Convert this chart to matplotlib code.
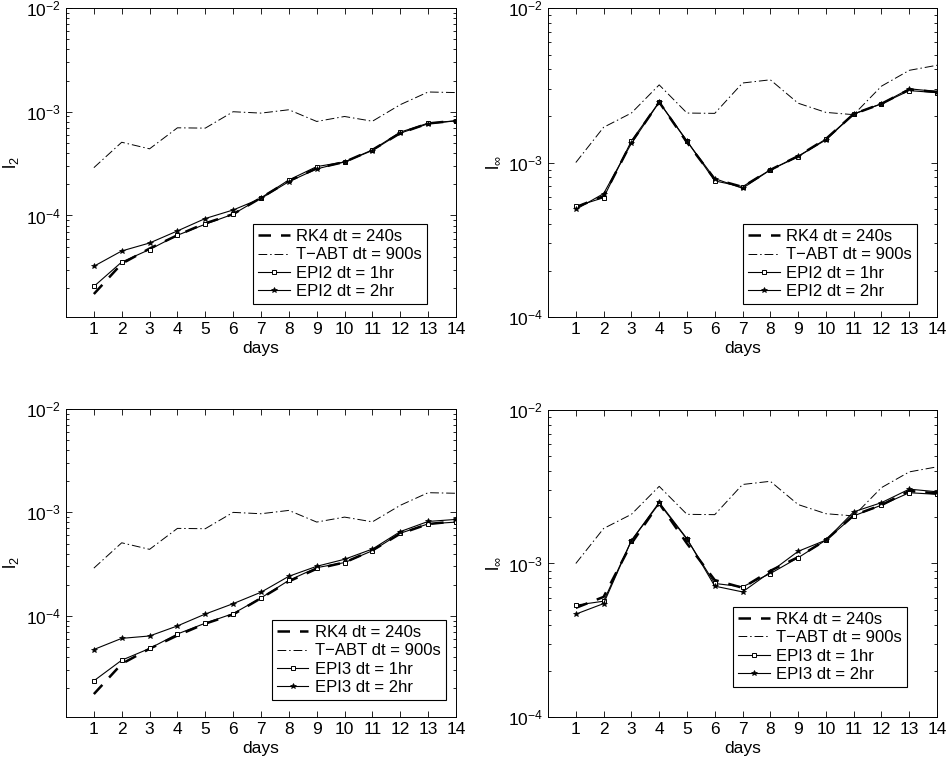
import numpy as np
import matplotlib
matplotlib.use("Agg")
import matplotlib.pyplot as plt
from matplotlib.ticker import LogLocator, FixedLocator, NullFormatter

plt.rcParams['font.family'] = ['Liberation Sans', 'DejaVu Sans']
plt.rcParams['mathtext.default'] = 'regular'
plt.rcParams['font.size'] = 12

days = np.arange(1, 15)

# l2 errors (left column)
rk4_l2 = [1.75e-5, 3.43e-5, 4.8e-5, 6.45e-5, 8.4e-5, 1.03e-4, 1.48e-4,
          2.15e-4, 2.85e-4, 3.28e-4, 4.29e-4, 6.22e-4, 7.71e-4, 8.2e-4]
tabt_l2 = [2.89e-4, 5.08e-4, 4.39e-4, 7.0e-4, 6.95e-4, 1.0e-3, 0.97e-3,
           1.045e-3, 8.06e-4, 9.0e-4, 8.1e-4, 1.17e-3, 1.55e-3, 1.53e-3]
epi2_1hr_l2 = [2.07e-5, 3.56e-5, 4.7e-5, 6.45e-5, 8.24e-5, 1.03e-4, 1.48e-4,
               2.2e-4, 2.96e-4, 3.28e-4, 4.29e-4, 6.36e-4, 7.76e-4, 8.18e-4]
epi2_2hr_l2 = [3.24e-5, 4.55e-5, 5.43e-5, 7.1e-5, 9.35e-5, 1.13e-4, 1.46e-4,
               2.12e-4, 2.81e-4, 3.28e-4, 4.23e-4, 6.22e-4, 7.65e-4, 8.18e-4]
epi3_1hr_l2 = [2.35e-5, 3.72e-5, 4.83e-5, 6.67e-5, 8.48e-5, 1.05e-4, 1.49e-4,
               2.2e-4, 2.92e-4, 3.27e-4, 4.26e-4, 6.28e-4, 7.74e-4, 8.05e-4]
epi3_2hr_l2 = [4.72e-5, 6.05e-5, 6.38e-5, 7.98e-5, 1.04e-4, 1.31e-4, 1.69e-4,
               2.41e-4, 3.01e-4, 3.52e-4, 4.42e-4, 6.52e-4, 8.17e-4, 8.55e-4]

# l-infinity errors (right column)
rk4_linf = [5.14e-4, 6.06e-4, 1.35e-3, 2.46e-3, 1.35e-3, 7.8e-4, 6.95e-4,
            8.96e-4, 1.1e-3, 1.42e-3, 2.06e-3, 2.4e-3, 2.97e-3, 2.86e-3]
tabt_linf = [1.0e-3, 1.69e-3, 2.09e-3, 3.18e-3, 2.09e-3, 2.08e-3, 3.27e-3,
             3.43e-3, 2.42e-3, 2.11e-3, 2.04e-3, 3.12e-3, 3.95e-3, 4.26e-3]
epi2_1hr_linf = [5.2e-4, 5.92e-4, 1.38e-3, 2.46e-3, 1.38e-3, 7.6e-4, 6.98e-4,
                 8.96e-4, 1.09e-3, 1.42e-3, 2.06e-3, 2.4e-3, 2.92e-3, 2.83e-3]
epi2_2hr_linf = [4.97e-4, 6.29e-4, 1.33e-3, 2.46e-3, 1.37e-3, 7.87e-4, 6.81e-4,
                 8.96e-4, 1.1e-3, 1.4e-3, 2.06e-3, 2.4e-3, 3.0e-3, 2.88e-3]
epi3_1hr_linf = [5.35e-4, 5.68e-4, 1.41e-3, 2.46e-3, 1.44e-3, 7.41e-4, 7.05e-4,
                 8.6e-4, 1.09e-3, 1.42e-3, 2.04e-3, 2.4e-3, 2.89e-3, 2.82e-3]
epi3_2hr_linf = [4.68e-4, 5.48e-4, 1.41e-3, 2.5e-3, 1.45e-3, 7.12e-4, 6.53e-4,
                 8.8e-4, 1.2e-3, 1.42e-3, 2.17e-3, 2.49e-3, 3.05e-3, 2.93e-3]

fig = plt.figure(figsize=(9.47, 7.61), dpi=100)

# [left, bottom, width, height], legend anchor (right, bottom) in axes coords
panels = [
    ([0.0697, 0.5834, 0.4118, 0.4061], 'l$_2$', (1.05e-5, 1e-2),
     rk4_l2, tabt_l2, epi2_1hr_l2, epi2_2hr_l2, 'EPI2', (0.926, 0.042)),
    ([0.5787, 0.5834, 0.4108, 0.4061], 'l$_\\infty$', (1e-4, 1e-2),
     rk4_linf, tabt_linf, epi2_1hr_linf, epi2_2hr_linf, 'EPI2', (0.949, 0.042)),
    ([0.0697, 0.0578, 0.4118, 0.4048], 'l$_2$', (1.05e-5, 1e-2),
     rk4_l2, tabt_l2, epi3_1hr_l2, epi3_2hr_l2, 'EPI3', (0.974, 0.055)),
    ([0.5787, 0.0578, 0.4108, 0.4035], 'l$_\\infty$', (1e-4, 1e-2),
     rk4_linf, tabt_linf, epi3_1hr_linf, epi3_2hr_linf, 'EPI3', (0.923, 0.098)),
]

for pos, ylab, ylim, rk4, tabt, e1, e2, name, anchor in panels:
    ax = fig.add_axes(pos)
    ax.semilogy(days, rk4, color='black', lw=1.8, ls=(0, (5, 4)),
                label='RK4 dt = 240s')
    ax.semilogy(days, tabt, color='black', lw=0.7, ls=(0, (9, 3, 1.5, 3)),
                label='T\u2212ABT dt = 900s')
    ax.semilogy(days, e1, color='black', lw=0.8, marker='s', ms=3.2,
                mfc='white', mec='black', mew=0.7, label=name + ' dt = 1hr')
    ax.semilogy(days, e2, color='black', lw=0.8, marker='*', ms=4,
                mec='black', mew=0.5, label=name + ' dt = 2hr')
    ax.set_xlim(0, 14)
    ax.set_ylim(*ylim)
    ax.set_xticks(days)
    ax.yaxis.set_major_locator(FixedLocator([1e-4, 1e-3, 1e-2]))
    ax.yaxis.set_minor_locator(LogLocator(base=10, subs=np.arange(2, 10)))
    ax.yaxis.set_minor_formatter(NullFormatter())
    ax.tick_params(which='both', direction='in', top=True, right=True,
                   width=0.6, labelsize=12.5)
    ax.tick_params(which='major', length=4)
    ax.tick_params(which='minor', length=2.5)
    for s in ax.spines.values():
        s.set_linewidth(0.7)
    ax.set_xlabel('days', fontsize=12.5, labelpad=3)
    ax.set_ylabel(ylab, fontsize=13)
    leg = ax.legend(loc='lower right', bbox_to_anchor=anchor, borderaxespad=0,
                    fancybox=False, framealpha=1, edgecolor='black',
                    fontsize=12, handlelength=1.9, labelspacing=0.2,
                    borderpad=0.3, handletextpad=0.4)
    leg.get_frame().set_linewidth(0.8)

fig.savefig('out.png', dpi=100)
